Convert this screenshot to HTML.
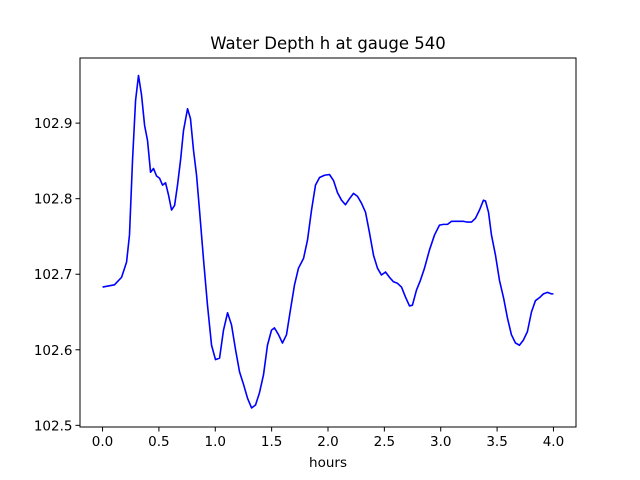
<!DOCTYPE html>
<html><head><meta charset="utf-8"><style>
body{margin:0;background:#fff;}
svg{display:block;font-family:"DejaVu Sans","Liberation Sans",sans-serif;}
</style></head><body>
<svg id="chart" width="640" height="480">
<rect width="640" height="480" fill="#fff"/>
<text x="328" y="49" font-size="16.5" text-anchor="middle">Water Depth h at gauge 540</text>
<text x="328" y="467" font-size="13.5" text-anchor="middle">hours</text>
<g id="plot"></g>
</svg>
<script>
const hours=[0,0.106,0.169,0.213,0.239,0.266,0.293,0.319,0.346,0.373,0.399,0.426,0.452,0.479,0.506,0.532,0.559,0.585,0.612,0.639,0.665,0.692,0.718,0.754,0.780,0.807,0.834,0.860,0.896,0.931,0.967,1.002,1.038,1.073,1.109,1.144,1.180,1.215,1.251,1.286,1.322,1.357,1.392,1.428,1.463,1.499,1.525,1.561,1.596,1.632,1.667,1.703,1.738,1.783,1.818,1.854,1.889,1.925,1.969,2.013,2.049,2.084,2.120,2.155,2.191,2.226,2.262,2.297,2.333,2.368,2.404,2.439,2.474,2.510,2.545,2.581,2.616,2.652,2.687,2.723,2.749,2.785,2.820,2.856,2.900,2.945,2.989,3.024,3.060,3.095,3.131,3.166,3.202,3.237,3.273,3.308,3.344,3.379,3.397,3.424,3.450,3.486,3.521,3.557,3.592,3.627,3.663,3.698,3.734,3.769,3.805,3.840,3.876,3.911,3.947,3.982,4.0];
const depth=[102.683,102.686,102.696,102.716,102.752,102.851,102.930,102.963,102.937,102.897,102.877,102.835,102.840,102.830,102.827,102.818,102.821,102.805,102.785,102.791,102.818,102.851,102.890,102.919,102.906,102.864,102.831,102.785,102.719,102.659,102.606,102.587,102.589,102.626,102.649,102.633,102.600,102.571,102.554,102.536,102.523,102.527,102.543,102.567,102.606,102.626,102.629,102.620,102.609,102.620,102.653,102.686,102.708,102.721,102.745,102.785,102.818,102.828,102.831,102.832,102.824,102.808,102.798,102.792,102.800,102.807,102.803,102.794,102.782,102.755,102.725,102.708,102.699,102.703,102.696,102.690,102.688,102.683,102.670,102.658,102.659,102.679,102.692,102.708,102.732,102.752,102.765,102.766,102.766,102.770,102.770,102.770,102.770,102.769,102.769,102.774,102.785,102.798,102.797,102.782,102.752,102.725,102.692,102.669,102.642,102.620,102.609,102.606,102.613,102.624,102.650,102.665,102.669,102.674,102.676,102.674,102.674];
const xTicks=[0,0.5,1,1.5,2,2.5,3,3.5,4];
const xTickLabels=["0.0","0.5","1.0","1.5","2.0","2.5","3.0","3.5","4.0"];
const yTicks=[102.5,102.6,102.7,102.8,102.9];
const yTickLabels=["102.5","102.6","102.7","102.8","102.9"];
const L=80,R=576,T=58,B=427,xMin=-0.2,xMax=4.2,yMin=102.4978,yMax=102.9862;
const sx=v=>L+(v-xMin)/(xMax-xMin)*(R-L);
const sy=v=>B-(v-yMin)/(yMax-yMin)*(B-T);
const NS="http://www.w3.org/2000/svg";
const g=document.getElementById('plot');
function mk(tag,attrs){const e=document.createElementNS(NS,tag);for(const k in attrs)e.setAttribute(k,attrs[k]);g.appendChild(e);return e;}
const line=mk('polyline',{points:hours.map((h,i)=>sx(h).toFixed(2)+','+sy(depth[i]).toFixed(2)).join(' '),fill:'none',stroke:'#0000ff','stroke-width':1.6,'stroke-linejoin':'round'});


const frame=mk('rect',{x:L,y:T,width:R-L,height:B-T,fill:'none',stroke:'#000','stroke-width':1});


xTicks.forEach((t,i)=>{
  const x=sx(t);
  const tk=mk('line',{x1:x,x2:x,y1:B,y2:B+4.5,stroke:'#000','stroke-width':1});
  
  
  const tx=mk('text',{x:x,y:B+19,'font-size':13.5,'text-anchor':'middle'});
  tx.textContent=xTickLabels[i];
  
  
});
yTicks.forEach((t,i)=>{
  const y=sy(t);
  const tk=mk('line',{x1:L-4.5,x2:L,y1:y,y2:y,stroke:'#000','stroke-width':1});
  
  
  const tx=mk('text',{x:L-7.5,y:y+5,'font-size':13.5,'text-anchor':'end'});
  tx.textContent=yTickLabels[i];
  
  
});
</script>
</body></html>
